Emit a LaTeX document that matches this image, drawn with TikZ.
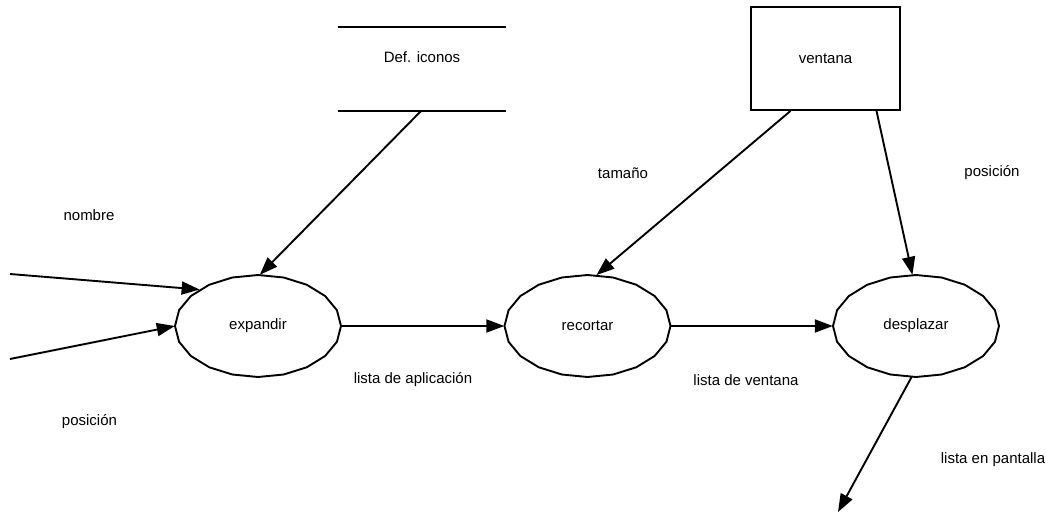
\documentclass[tikz,border=0pt]{standalone}
\usepackage{fontspec}
\setmainfont{Liberation Sans}
\usetikzlibrary{arrows.meta,shapes.geometric}
\begin{document}
\begin{tikzpicture}[x=1pt,y=-1pt,
  every node/.style={font=\fontsize{15}{18}\selectfont},
  edge/.style={line width=1.9pt},
  flow/.style={edge,-{Triangle[length=18pt,width=13pt]}},
  proc/.style={ellipse,minimum width=166pt,minimum height=102pt,inner sep=0pt},
  ent/.style={draw,line width=1.9pt,minimum width=149pt,minimum height=103pt,inner sep=0pt},
  lbl/.style={inner sep=1pt}]
\useasboundingbox (0,0) rectangle (1046,522);

% process bubbles: named ellipse node plus a 20-sided outline
\newcommand{\procbubble}[4]{%
  \node[proc] (#1) at (#2,#3) {#4};
  \draw[edge] plot[samples=21,domain=0:360] ({#2+83*cos(\x)},{#3+51*sin(\x)}) -- cycle;}

\procbubble{exp}{258}{326}{expandir}
\procbubble{rec}{587.5}{326}{recortar}
\procbubble{des}{916}{326}{desplazar}

% data store
\node (dic) at (422,57) {Def. iconos};
\draw[edge] ([xshift=-84pt,yshift=30pt]dic.center) -- ([xshift=84pt,yshift=30pt]dic.center);
\draw[edge] ([xshift=-84pt,yshift=-54pt]dic.center) -- ([xshift=84pt,yshift=-54pt]dic.center);
\coordinate (dicout) at ([xshift=-1pt,yshift=-54pt]dic.center);

% external entity
\node[ent] (ven) at (825.5,58.5) {ventana};

% free ends
\coordinate (in1) at (10,274);
\coordinate (in2) at (10,359);
\coordinate (out) at (838,512);

% flows
\draw[flow] (in1) -- (exp.148);
\draw[flow] (in2) -- (exp.180);
\draw[flow] (dicout) -- (exp.88);
\draw[flow] (exp.east) -- (rec.west);
\draw[flow] (rec.east) -- (des.west);
\draw[flow] ([xshift=-35pt]ven.south) -- (rec.80);
\draw[flow] ([xshift=51pt]ven.south) -- (des.94);
\draw[flow] (des.265) -- (out);

% flow labels
\node[lbl] (lnom) at (89,215) {nombre};
\node[lbl] (lpos1) at (89.5,422) {posición};
\node[lbl] (ltam) at (623,173) {tamaño};
\node[lbl] (lpos2) at (992,173) {posición};
\node[lbl] (lapl) at (413,380) {lista de aplicación};
\node[lbl] (lven) at (746,380) {lista de ventana};
\node[lbl] (lpan) at (993,460) {lista en pantalla};
\end{tikzpicture}
\end{document}
